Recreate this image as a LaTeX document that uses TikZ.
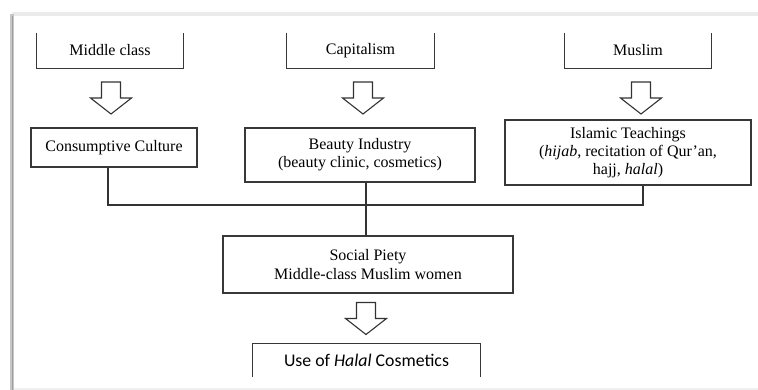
\documentclass[tikz,border=0pt]{standalone}
\usepackage{fontspec}
\setmainfont{Liberation Serif}
\newfontfamily\calfont{Carlito}
\begin{document}
\begin{tikzpicture}[x=1pt,y=-1pt,
  boxline/.style={draw=black!78,line width=1.3pt},
  txt/.style={inner sep=0pt,align=center,font=\fontsize{16}{18.3}\selectfont},
  openbox/.style={txt},
  closedbox/.style={txt,boxline},
  conn/.style={draw=black!80,line width=1.6pt},
  blockarrow/.pic={\draw[draw=black!80,line width=1.1pt,line join=miter,fill=white]
     (-9.5,0) -- (-9.5,16) -- (-20.5,16) -- (0,32) -- (20.5,16) -- (9.5,16) -- (9.5,0) -- cycle;}
]
\useasboundingbox (0,0) rectangle (758,390);
\fill[white] (0,0) rectangle (758,390);
% frame shadow
\draw[black!8,line width=4pt] (12,14) -- (758,14);
\draw[black!22,line width=3.5pt] (12,14) -- (12,390);
\draw[black!38,line width=1pt] (12.5,16) -- (12.5,390);
\draw[black!6,line width=2pt] (14,389) -- (758,389);

% top row (open at top)
\node[openbox,minimum width=146pt,minimum height=35pt] (mc) at (110,50.5) {Middle class};
\node[openbox,minimum width=147pt,minimum height=35pt] (cap) at (360.5,50.5) {Capitalism};
\node[openbox,minimum width=146pt,minimum height=35pt] (mus) at (638,50.5) {Muslim};
\foreach \n in {mc,cap,mus}
  \draw[boxline,line cap=butt] (\n.north west) -- (\n.south west) -- (\n.south east) -- (\n.north east);

% second row
\node[closedbox,minimum width=166pt,minimum height=39pt] (cc) at (114,147.5) {Consumptive Culture};
\node[closedbox,minimum width=230pt,minimum height=54pt] (bi) at (360,155) {Beauty Industry\\(beauty clinic, cosmetics)};
\node[closedbox,minimum width=246pt,minimum height=65pt] (it) at (628,152.5) {Islamic Teachings\\(\textit{hijab}, recitation of Qur’an,\\hajj, \textit{halal})};

% social piety
\node[closedbox,minimum width=290pt,minimum height=57pt] (sp) at (368,264.5) {Social Piety\\Middle-class Muslim women};

% bottom (open at bottom)
\node[inner sep=0pt,minimum width=227pt,minimum height=33pt,font=\calfont\fontsize{17.8}{20}\selectfont] (uh) at (366.5,360) {Use of \textit{Halal} Cosmetics};
\draw[boxline] (uh.south west) -- (uh.north west) -- (uh.north east) -- (uh.south east);

% block arrows
\pic at (111,82) {blockarrow};
\pic at (363,82) {blockarrow};
\pic at (641,82) {blockarrow};
\pic at (366,302.5) {blockarrow};

% connectors
\coordinate (jl) at (108,205);
\coordinate (jr) at (643,205);
\draw[conn] ([xshift=-6pt]cc.south) -- (jl) -- (jr) -- ([xshift=15pt]it.south);
\draw[conn] ([xshift=6pt]bi.south) -- ([xshift=-2pt]sp.north);
\end{tikzpicture}
\end{document}
